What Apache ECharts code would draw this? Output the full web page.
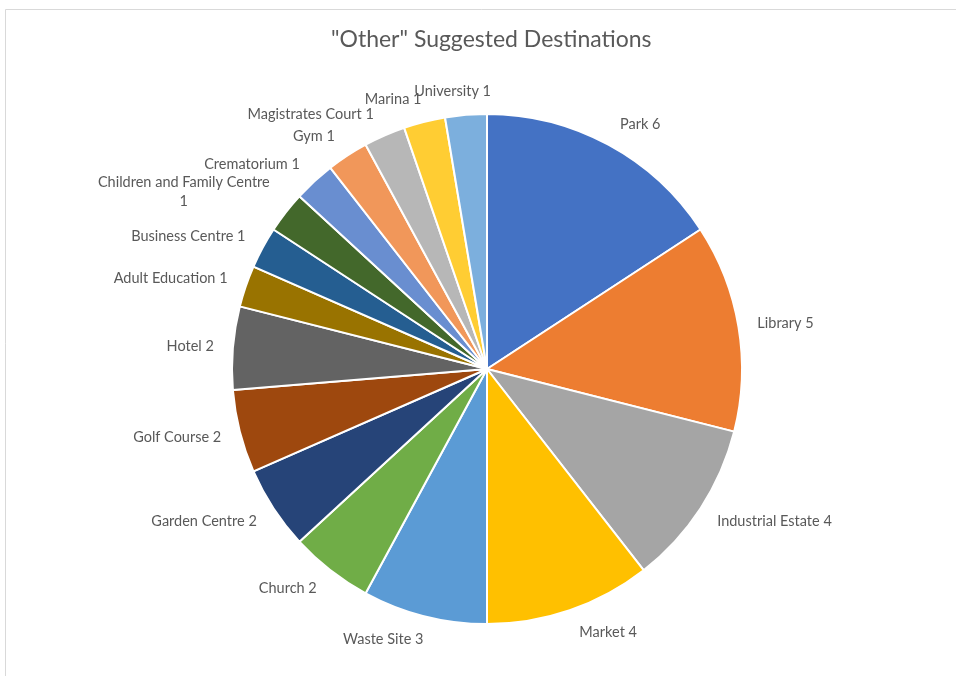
<!DOCTYPE html>
<html>
<head>
<meta charset="utf-8">
<script src="https://cdn.jsdelivr.net/npm/echarts@6/dist/echarts.min.js"></script>
<style>
  html, body { margin: 0; padding: 0; background: #ffffff; }
  #chart { width: 956px; height: 676px; }
</style>
</head>
<body>
<div id="chart"></div>
<script>
// Destinations, in clockwise order from twelve o'clock
const categories = [
  'Park', 'Library', 'Industrial Estate', 'Market', 'Waste Site', 'Church',
  'Garden Centre', 'Golf Course', 'Hotel', 'Adult Education', 'Business Centre',
  'Children and Family Centre', 'Crematorium', 'Gym', 'Magistrates Court',
  'Marina', 'University'
];
const counts = [6, 5, 4, 4, 3, 2, 2, 2, 2, 1, 1, 1, 1, 1, 1, 1, 1];
const sliceColors = [
  '#4472C4', '#ED7D31', '#A5A5A5', '#FFC000', '#5B9BD5', '#70AD47',
  '#264478', '#9E480E', '#636363', '#997300', '#255E91', '#43682B',
  '#698ED0', '#F1975A', '#B7B7B7', '#FFCD33', '#7CAFDD'
];
const chartTitle = '"Other" Suggested Destinations';

const CX = 487, CY = 369, R = 255;
const FONT = 'Lato, "Open Sans", sans-serif';

// Mid-angle of every slice, degrees clockwise from the top
const total = counts.reduce((a, b) => a + b, 0);
const midAngles = [];
let acc = 0;
counts.forEach(v => { midAngles.push((acc + v / 2) / total * 360); acc += v; });

const chart = echarts.init(document.getElementById('chart'), null, { renderer: 'canvas' });

chart.setOption({
  backgroundColor: '#ffffff',
  animation: false,
  color: sliceColors,
  title: {
    text: chartTitle,
    left: 326,
    top: 23,
    textStyle: {
      fontFamily: FONT,
      fontSize: 23,
      fontWeight: 'normal',
      color: '#595959'
    }
  },
  graphic: [{
    type: 'rect',
    silent: true,
    shape: { x: 5.5, y: 9.5, width: 1000, height: 800 },
    style: { fill: 'none', stroke: '#d9d9d9', lineWidth: 1 }
  }],
  series: [{
    type: 'pie',
    center: [CX, CY],
    radius: [0, R],
    startAngle: 90,
    clockwise: true,
    avoidLabelOverlap: false,
    itemStyle: { borderColor: '#ffffff', borderWidth: 2 },
    label: {
      show: true,
      position: 'outside',
      fontFamily: FONT,
      fontSize: 14.5,
      color: '#595959',
      lineHeight: 19,
      formatter: p => (p.name.length > 20 ? p.name + '\n' + p.value : p.name + ' ' + p.value)
    },
    labelLine: { show: false, length: 10, length2: 0 },
    // Each label hangs off a point just outside the rim on its slice's
    // mid-angle; side labels sit wholly to one side of that point, while
    // labels near the top and bottom slide back towards being centred on it
    labelLayout: function (params) {
      const phi = midAngles[params.dataIndex] * Math.PI / 180;
      const s = Math.sin(phi), c = Math.cos(phi);
      const w = params.labelRect.width, h = params.labelRect.height;
      const d = R + 14;
      const f = Math.min(1, 3.4 * Math.abs(s));
      return {
        x: CX + d * s + Math.sign(s) * f * (w / 2 + 5),
        y: CY - d * c - c * h / 2,
        align: 'center',
        verticalAlign: 'middle'
      };
    },
    emphasis: { disabled: true },
    data: categories.map((name, i) => ({ name: name, value: counts[i] }))
  }]
});
</script>
</body>
</html>
